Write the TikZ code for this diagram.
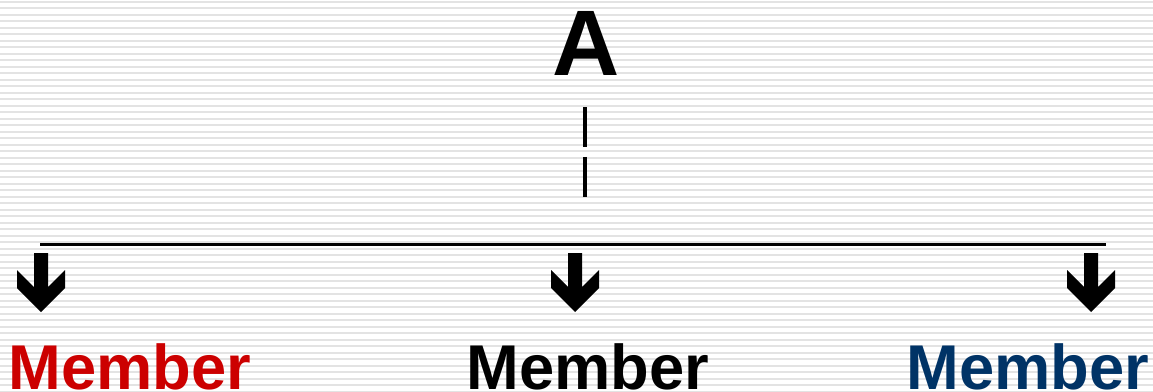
\documentclass[tikz,border=0pt]{standalone}
\usepackage{fontspec}
\setmainfont{Liberation Sans}
\usetikzlibrary{positioning}
\definecolor{memred}{HTML}{CC0000}
\definecolor{memblue}{HTML}{003366}

\begin{document}
\begin{tikzpicture}[x=0.02cm, y=-0.02cm,
    stripe/.style={line width=0.04cm, gray!22},
    title/.style={inner sep=0pt, anchor=base, font=\fontsize{53}{60}\selectfont\bfseries},
    member/.style={inner sep=0pt, anchor=base, font=\fontsize{36}{40}\selectfont\bfseries},
    dashline/.style={line width=0.08cm, dash pattern=on 0.8cm off 0.2cm},
    bar/.style={line width=0.06cm},
    blockarrow/.style={fill=black}]
    % Nền kẻ sọc
    \useasboundingbox (0,0) rectangle (1153,392);
    \fill[white] (0,0) rectangle (1153,392);
    \foreach \k in {0,...,60}
        \draw[stripe] (0,{1.7+6.5*\k}) -- (1153,{1.7+6.5*\k});

    % Đỉnh A và đường nét đứt
    \node[title] (a) at (586,75) {A};
    \coordinate (dtop) at (585,107);
    \coordinate (dbot) at (585,198);
    \draw[dashline] (dtop) -- (dbot);

    % Thanh ngang
    \coordinate (barL) at (40,244);
    \coordinate (barR) at (1106,244);
    \draw[bar] (barL) -- (barR);

    % Ba thành viên
    \node[member, text=memred] (memL) at (130,389) {Member};
    \node[member] (memM) at (588,389) {Member};
    \node[member, text=memblue] (memR) at (1028,389) {Member};

    % Mũi tên xuống (vẽ từ mũi nhọn)
    \foreach \nm/\xx in {L/41, M/575, R/1091} {
        \coordinate (tip\nm) at (\xx,312);
        \fill[blockarrow] (tip\nm) -- ++(24,-24) -- ++(0,-18) -- ++(-17,17)
            -- ++(0,-34) -- ++(-14,0) -- ++(0,34) -- ++(-17,-17) -- ++(0,18) -- cycle;
    }
\end{tikzpicture}
\end{document}
